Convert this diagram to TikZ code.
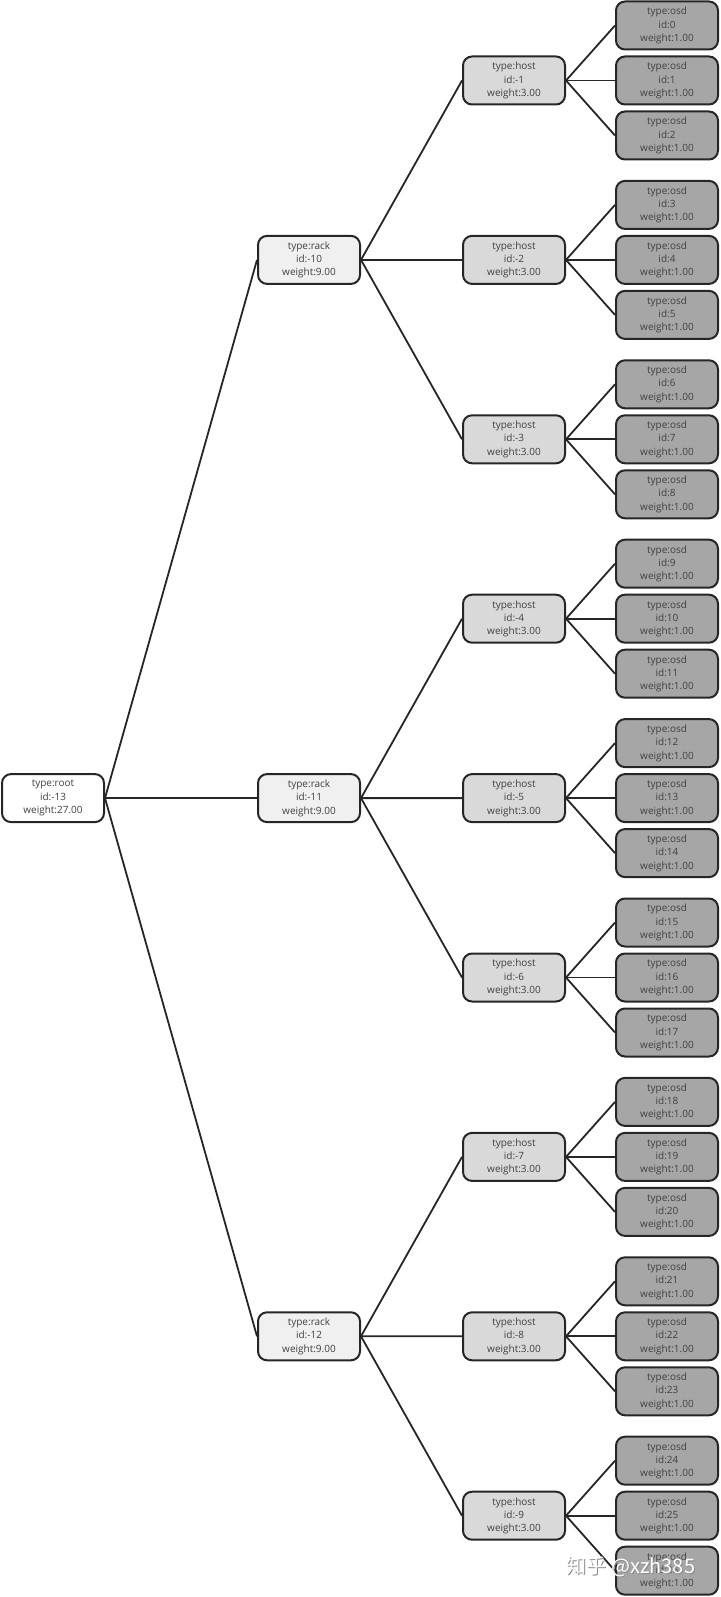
\documentclass[tikz,border=0pt]{standalone}
\usepackage{fontspec}
\setmainfont{Open Sans}
\newfontfamily\cjk{Noto Sans CJK SC}
\usetikzlibrary{positioning}
\definecolor{rootfill}{HTML}{FFFFFF}
\definecolor{rackfill}{HTML}{F0F0F0}
\definecolor{hostfill}{HTML}{D9D9D9}
\definecolor{osdfill}{HTML}{A6A6A6}
\definecolor{edge}{HTML}{262626}
\definecolor{txt}{HTML}{404040}
\tikzset{
  bucket/.style={draw=edge, line width=2pt, rounded corners=9pt,
    minimum width=102pt, minimum height=48pt, inner sep=0pt, align=center,
    text=txt, font=\fontsize{10}{13.3}\selectfont},
  rootbox/.style={bucket, fill=rootfill},
  rackbox/.style={bucket, fill=rackfill},
  hostbox/.style={bucket, fill=hostfill},
  osdbox/.style={bucket, fill=osdfill},
  link/.style={draw=edge, line width=1.8pt}
}

\begin{document}
\begin{tikzpicture}[x=1pt, y=-1pt]
    \useasboundingbox (0,0) rectangle (720,1597);
    % root bucket
    \node[rootbox] (root) at (53,798.1) {type:root\\id:-13\\weight:27.00};
    % rack buckets
    \node[rackbox] (rack10) at (309,259.9) {type:rack\\id:-10\\weight:9.00};
    \node[rackbox] (rack11) at (309,798.1) {type:rack\\id:-11\\weight:9.00};
    \node[rackbox] (rack12) at (309,1336.3) {type:rack\\id:-12\\weight:9.00};
    \draw[link] (root.east) -- (rack10.west);
    \draw[link] (root.east) -- (rack11.west);
    \draw[link] (root.east) -- (rack12.west);
    % hosts, three osds on each
    \foreach \h in {1,...,9} {
      \pgfmathsetmacro\hy{80.5+179.4*(\h-1)}
      \pgfmathtruncatemacro\r{10+int((\h-1)/3)}
      \node[hostbox] (host\h) at (514,\hy) {type:host\\id:-\h\\weight:3.00};
      \draw[link] (rack\r.east) -- (host\h.west);
      \foreach \k in {0,1,2} {
        \pgfmathtruncatemacro\o{3*(\h-1)+\k}
        \node[osdbox] (osd\o) at (667,\hy+55*\k-55) {type:osd\\id:\o\\weight:1.00};
        \draw[link] (host\h.east) -- (osd\o.west);
      }
    }
    % watermark
    \node[font=\cjk\fontsize{20}{20}\selectfont, text=black!45] (markshade) at (632,1568) {知乎 @xzh385};
    \node[font=\cjk\fontsize{20}{20}\selectfont, text=white] (mark) at (631,1567) {知乎 @xzh385};
\end{tikzpicture}
\end{document}
